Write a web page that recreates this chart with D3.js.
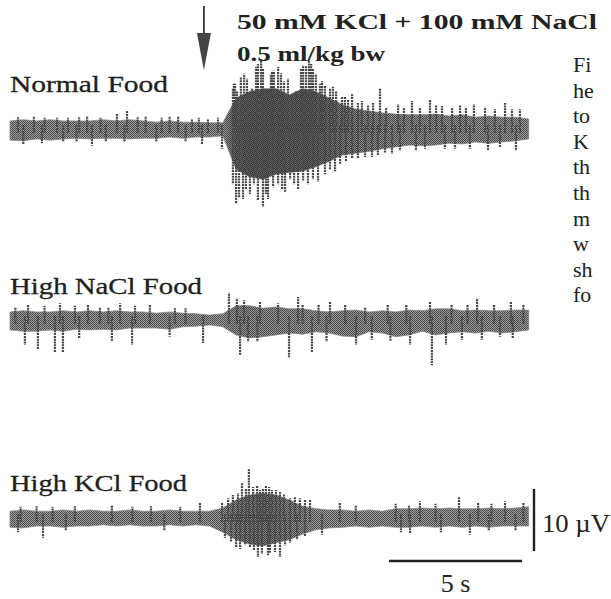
<!DOCTYPE html>
<html><head><meta charset="utf-8">
<script src="https://cdn.jsdelivr.net/npm/d3@7"></script>
<style>body{margin:0;background:#fff}svg{display:block}text{font-family:"Liberation Serif","Times New Roman",Times,serif}</style>
</head><body>
<svg id="c" width="611" height="599"></svg>
<script>
// sampling times (s) of the read envelope
const times = [0,0.5,1,1.5,2,2.5,3,3.5,4,4.5,5,5.5,6,6.5,7,7.5,8,8.5,9,9.5,10,10.5,11,11.5,12,12.5,13,13.5,14,14.5,15,15.5,16,16.5,17,17.5,18,18.5,19,19.5];

// Normal Food (µV, upper / lower envelope of the dense trace)
const normalUp   = [1.3,1.5,1.3,1.5,1.3,1.3,1.3,1.5,1.3,1.5,1.3,1.1,1.3,1.1,1.1,1.0,1.0,5.0,6.0,6.5,6.5,5.5,6.5,6.0,5.0,3.9,3.2,2.9,2.6,2.4,2.3,2.3,2.4,2.1,2.3,1.9,2.1,1.9,1.9,1.6];
const normalDown = [1.8,1.9,1.6,1.8,1.6,1.5,1.6,1.5,1.5,1.6,1.5,1.5,1.3,1.5,1.3,1.3,1.1,6.5,7.7,8.1,7.3,7.0,6.8,6.1,5.2,4.2,3.9,3.6,3.2,2.9,2.6,2.7,2.6,2.3,2.4,2.1,2.3,2.1,1.9,1.6];
// Normal Food spikes [time s, µV]
const normalSpikes = [
  [0.3,1.9],[0.9,2.1],[1.3,1.8],[1.77,1.8],[2.18,1.8],[2.6,1.9],[2.9,2.1],[3.4,1.8],[4.02,2.4],[4.40,2.9],[4.8,1.9],[5.1,2.1],[5.7,1.8],[6.0,2.0],[6.32,2.1],[6.84,1.6],[7.1,1.8],[7.44,1.6],[7.82,1.8],
  [8.38,6.5],[8.42,7.3],[8.46,7.3],[8.53,6.1],[8.68,8.4],[8.80,8.9],[8.91,8.1],[9.10,6.5],[9.25,10.0],[9.32,10.5],[9.44,11.3],[9.51,9.7],[9.66,6.1],[9.81,8.9],[9.85,9.4],[9.92,9.4],[10.08,10.0],[10.19,9.0],[10.30,7.7],[10.45,8.1],[10.60,5.6],[10.75,6.1],[10.94,9.7],[11.02,10.3],[11.13,10.2],[11.24,11.0],[11.32,10.5],[11.39,9.7],[11.50,8.9],[11.65,7.3],[11.73,7.7],[11.84,7.1],[12.03,6.5],[12.14,6.8],[12.26,6.1],[12.48,5.2],[12.59,5.3],[12.71,4.8],[12.86,5.6],[13.08,4.2],[13.23,4.5],[13.46,3.9],[13.65,4.2],[13.91,6.5],[14.14,3.5],[14.59,4.0],[14.81,3.5],[15.11,4.5],[15.41,3.5],[15.79,4.8],[16.02,3.9],[16.24,3.7],[16.62,3.5],[16.92,3.9],[17.14,3.5],[17.44,4.0],[17.86,3.5],[18.23,3.2],[18.61,4.2],[18.87,3.2],[19.17,3.2],
  [0.5,-2.4],[1.2,-2.3],[2.00,-2.1],[2.5,-2.1],[3.08,-2.7],[3.6,-2.1],[4.3,-2.1],[5.5,-2.0],[6.6,-2.0],[7.22,-2.4],[7.97,-3.2],
  [8.38,-8.9],[8.50,-12.1],[8.61,-11.0],[8.76,-11.3],[8.87,-9.7],[9.02,-10.5],[9.17,-8.9],[9.32,-11.6],[9.51,-12.6],[9.62,-10.5],[9.70,-11.3],[9.89,-9.4],[10.08,-8.9],[10.23,-9.7],[10.34,-10.2],[10.53,-8.1],[10.68,-8.9],[10.83,-9.7],[11.02,-8.4],[11.20,-8.9],[11.39,-8.1],[11.58,-8.5],[11.84,-7.3],[12.03,-6.5],[12.22,-6.8],[12.41,-5.6],[12.63,-5.2],[12.86,-4.8],[13.08,-4.8],[13.35,-4.5],[13.61,-4.5],[13.83,-4.2],[14.10,-3.9],[14.36,-4.0],[14.66,-3.5],[15.26,-3.5],[15.60,-3.2],[16.35,-3.2],[16.73,-3.2],[17.29,-3.2],[17.97,-3.5],[18.42,-2.9],[19.02,-3.5]];

// High NaCl Food
const naclUp   = [1.3,1.5,1.3,1.3,1.5,1.3,1.5,1.3,1.5,1.3,1.3,1.1,1.3,1.1,1.0,0.8,1.0,2.3,2.3,1.9,2.1,1.8,1.8,1.5,1.3,1.5,1.6,1.3,1.5,1.3,1.6,1.5,1.8,1.8,1.5,1.6,1.5,1.5,1.6,1.6];
const naclDown = [1.6,1.8,1.8,1.6,1.8,1.5,1.6,1.5,1.6,1.3,1.3,1.3,1.5,1.1,1.0,0.8,1.1,2.4,2.9,2.7,2.4,2.1,2.3,1.9,2.1,2.6,2.7,1.9,2.1,2.7,2.4,1.8,2.4,2.1,1.9,2.1,1.8,2.1,1.9,1.6];
const naclSpikes = [
  [0.2,2.1],[0.68,2.4],[1.3,2.3],[1.88,2.7],[2.44,2.3],[2.93,2.6],[3.38,2.1],[3.7,2.1],[4.14,2.7],[4.7,2.3],[5.26,2.4],[6.20,1.9],[6.6,1.9],[8.23,4.4],[8.53,3.5],[8.80,3.2],[9.40,2.9],[10.08,2.7],[10.83,3.7],[11.0,2.6],[11.6,2.4],[12.03,2.9],[12.6,2.4],[13.35,2.1],[14.2,2.6],[14.9,2.4],[15.79,2.9],[16.6,2.4],[17.2,2.6],[17.56,3.5],[18.2,2.4],[18.83,2.9],[19.3,2.6],
  [0.56,-4.0],[1.05,-4.8],[1.69,-5.2],[1.99,-5.3],[2.6,-3.0],[3.83,-3.5],[4.59,-4.0],[6.0,-2.7],[7.26,-3.7],[8.65,-5.6],[8.95,-3.5],[9.3,-3.5],[10.49,-6.0],[11.35,-5.2],[11.9,-3.5],[13.01,-4.0],[13.6,-3.2],[14.3,-3.4],[15.04,-4.0],[15.86,-7.3],[16.39,-4.0],[16.99,-3.2],[17.74,-3.2],[18.42,-2.7],[18.9,-3.0]];

// High KCl Food
const kclUp   = [1.1,1.3,1.1,1.1,1.3,1.1,1.3,1.1,1.1,1.3,1.1,1.1,1.3,1.1,1.1,1.1,1.6,2.9,3.7,4.0,3.7,2.9,1.9,1.5,1.3,1.3,1.1,1.3,1.1,1.5,1.5,1.6,1.5,1.6,1.5,1.5,1.6,1.5,1.6,1.8];
const kclDown = [1.5,1.6,1.3,1.3,1.5,1.3,1.3,1.1,1.3,1.1,1.3,1.3,1.1,1.3,1.1,1.3,2.3,3.5,4.2,4.5,4.0,3.5,2.6,1.9,1.6,1.5,1.3,1.5,1.3,1.5,1.5,1.3,1.5,1.3,1.5,1.3,1.5,1.3,1.3,1.3];
const kclSpikes = [
  [0.4,1.8],[1.0,1.9],[1.6,1.8],[2.44,1.9],[3.83,2.1],[4.6,1.8],[5.3,1.9],[6.4,1.8],[7.14,2.6],[7.97,2.6],[8.20,3.2],[8.38,3.7],[8.57,4.0],[8.72,5.6],[8.87,4.8],[8.98,7.9],[9.14,5.0],[9.29,5.3],[9.40,4.5],[9.51,4.8],[9.62,5.3],[9.74,5.0],[9.85,4.5],[10.0,4.5],[10.15,4.2],[10.30,3.9],[10.53,3.2],[10.71,3.4],[10.90,3.2],[11.09,2.9],[11.28,2.9],[12.40,2.6],[13.0,2.1],[14.5,2.3],[15.0,2.1],[15.41,2.7],[16.0,2.3],[16.88,3.4],[17.6,2.4],[18.1,2.3],[18.61,2.7],[19.3,2.4],
  [0.3,-2.3],[1.24,-3.2],[2.1,-2.0],[5.8,-2.0],[8.08,-3.2],[8.31,-3.9],[8.50,-4.7],[8.65,-5.0],[8.84,-4.4],[9.02,-4.8],[9.17,-5.2],[9.32,-6.3],[9.47,-5.8],[9.70,-6.0],[9.77,-5.6],[9.96,-5.5],[10.15,-6.3],[10.34,-4.4],[10.53,-4.0],[10.79,-3.5],[11.09,-2.9],[11.73,-2.7],[14.7,-2.3],[15.04,-2.4],[16.2,-2.3],[17.29,-2.7],[18.0,-2.1],[19.0,-2.1]];

const traceNames = ["Normal Food","High NaCl Food","High KCl Food"];
const stimLabel = ["50 mM KCl + 100 mM NaCl","0.5 ml/kg bw"];
const captionFragments = ["Fi","he","to","K","th","th","m","w","sh","fo"];
const timeBar = {start:14.25, length:5, label:"5 s"};
const voltBar = {length:10, label:"10 \u00b5V"};
const stimTime = 7.29;

const svg = d3.select("#c");
const defs = svg.append("defs");
const pat = defs.append("pattern").attr("id","ht").attr("patternUnits","userSpaceOnUse").attr("width",2).attr("height",2);
pat.append("rect").attr("width",2).attr("height",2).attr("fill","#a0a0a0");
pat.append("rect").attr("width",1).attr("height",1).attr("fill","#454545");
pat.append("rect").attr("x",1).attr("y",1).attr("width",1).attr("height",1).attr("fill","#505050");

const x = d3.scaleLinear().domain([0,19.5]).range([10,528.7]);
const pxPerUV = 6.2;
const baselines = [129,320,518];
const traces = [
  {name:traceNames[0], up:normalUp, down:normalDown, spikes:normalSpikes},
  {name:traceNames[1], up:naclUp, down:naclDown, spikes:naclSpikes},
  {name:traceNames[2], up:kclUp, down:kclDown, spikes:kclSpikes}
];
const shade = d3.scaleLinear().domain([3,13]).range([0,0.4]).clamp(true);

traces.forEach((tr,i)=>{
  const y = d3.scaleLinear().domain([-10,10]).range([baselines[i]+10*pxPerUV, baselines[i]-10*pxPerUV]);
  const pts = times.map((t,k)=>({t, up:tr.up[k], dn:tr.down[k]}));
  // darkening where the activity is dense
  const gr = defs.append("linearGradient").attr("id","gr"+i).attr("gradientUnits","userSpaceOnUse")
    .attr("x1",x(times[0])).attr("x2",x(times[times.length-1])).attr("y1",0).attr("y2",0);
  gr.selectAll("stop").data(pts).join("stop")
    .attr("offset",d=>(d.t-times[0])/(times[times.length-1]-times[0]))
    .attr("stop-color","#111").attr("stop-opacity",d=>shade(d.up+d.dn));
  const g = svg.append("g");
  const area = d3.area().x(d=>x(d.t)).y0(d=>y(-d.dn)).y1(d=>y(d.up)).curve(d3.curveLinear);
  g.append("path").datum(pts).attr("d",area).attr("fill","url(#ht)").attr("stroke","#8a8a8a").attr("stroke-width",0.8);
  g.append("path").datum(pts).attr("d",area).attr("fill","url(#gr"+i+")");
  g.selectAll("line.sp").data(tr.spikes).join("line").attr("class","sp")
    .attr("x1",d=>x(d[0])).attr("x2",d=>x(d[0]))
    .attr("y1",d=>y(d[1] > 0 ? -0.6 : 0.6)).attr("y2",d=>y(d[1]))
    .attr("stroke","#484848").attr("stroke-width",2.2).attr("stroke-dasharray","2,0.8");
  tr.y = y;
});

// trace labels
const labelPos = [[10,92,158],[10,294,192],[10,491,177]];
traces.forEach((tr,i)=>{
  svg.append("text").attr("x",labelPos[i][0]).attr("y",labelPos[i][1])
    .attr("font-size",24).attr("fill","#1e1e1e")
    .attr("stroke","#1e1e1e").attr("stroke-width",0.3)
    .attr("textLength",labelPos[i][2]).attr("lengthAdjust","spacingAndGlyphs").text(tr.name);
});

// stimulus arrow and label
const ax = x(stimTime);
svg.append("line").attr("x1",ax).attr("x2",ax).attr("y1",6).attr("y2",40).attr("stroke","#333").attr("stroke-width",1.8);
svg.append("path").attr("d",`M${ax-7},33 L${ax+7},33 L${ax},70 Z`).attr("fill","#444");
svg.append("text").attr("x",237).attr("y",29).attr("font-size",22).attr("font-weight","bold")
  .attr("fill","#222").attr("textLength",360).attr("lengthAdjust","spacingAndGlyphs").text(stimLabel[0]);
svg.append("text").attr("x",237).attr("y",61).attr("font-size",22).attr("font-weight","bold")
  .attr("fill","#222").attr("textLength",148).attr("lengthAdjust","spacingAndGlyphs").text(stimLabel[1]);

// caption fragments cut by the right edge
svg.selectAll("text.cap").data(captionFragments).join("text").attr("class","cap")
  .attr("x",573).attr("y",(d,i)=>72+i*25.6).attr("font-size",22).attr("fill","#222").text(d=>d);

// scale bars
const y3 = traces[2].y;
svg.append("line").attr("x1",x(timeBar.start)).attr("x2",x(timeBar.start+timeBar.length)).attr("y1",561).attr("y2",561)
  .attr("stroke","#222").attr("stroke-width",2.4);
svg.append("text").attr("x",(x(timeBar.start)+x(timeBar.start+timeBar.length))/2).attr("y",592).attr("text-anchor","middle")
  .attr("font-size",26).attr("fill","#222").text(timeBar.label);
const vTop = 489, vLen = y3(0)-y3(voltBar.length);
svg.append("line").attr("x1",534).attr("x2",534).attr("y1",vTop).attr("y2",vTop+vLen).attr("stroke","#222").attr("stroke-width",2.4);
svg.append("text").attr("x",542).attr("y",532).attr("font-size",26).attr("fill","#222")
  .attr("textLength",68).attr("lengthAdjust","spacingAndGlyphs").text(voltBar.label);
</script>
</body></html>
